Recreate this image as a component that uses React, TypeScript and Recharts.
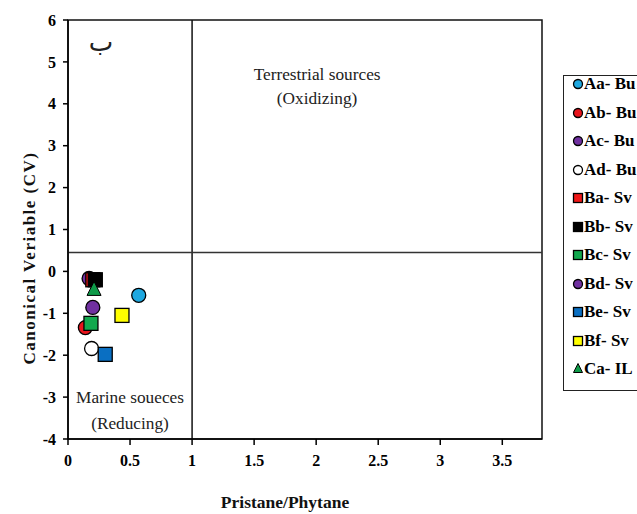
import {
  ScatterChart,
  Scatter,
  XAxis,
  YAxis,
  ReferenceLine,
  ReferenceArea,
  ReferenceDot,
} from 'recharts'

// samples, in drawing order (later ones sit on top)
const samples = ['Aa- Bu', 'Ab- Bu', 'Ac- Bu', 'Ad- Bu', 'Ba- Sv', 'Bb- Sv', 'Bc- Sv', 'Bd- Sv', 'Be- Sv', 'Bf- Sv', 'Ca- IL']
const pristanePhytane = [0.57, 0.14, 0.17, 0.19, 0.2, 0.22, 0.185, 0.2, 0.3, 0.435, 0.21]
const canonicalVariable = [-0.57, -1.34, -0.17, -1.84, -0.2, -0.2, -1.24, -0.86, -1.98, -1.05, -0.43]

const markerKinds = ['circle', 'circle', 'circle', 'circle', 'square', 'square', 'square', 'circle', 'square', 'square', 'triangle']
const markerColors = ['#1ea8e0', '#e8141c', '#7030a0', '#ffffff', '#f01818', '#000000', '#12a84e', '#7030a0', '#0a6fc2', '#ffff00', '#0e9a48']

const xTicks = [0, 0.5, 1, 1.5, 2, 2.5, 3, 3.5]
const yTicks = [-4, -3, -2, -1, 0, 1, 2, 3, 4, 5, 6]
const X_MAX = 3.82
const Y_SPLIT = 0.45 // horizontal divider
const X_SPLIT = 1 // vertical divider

const FONT = 'Liberation Serif, Times New Roman, serif'

function Marker({ cx, cy, kind, color, size }: { cx: number; cy: number; kind: string; color: string; size: number }) {
  const h = size / 2
  if (kind === 'square') {
    return <rect x={cx - h} y={cy - h} width={size} height={size} fill={color} stroke="#000" strokeWidth={1.3} />
  }
  if (kind === 'triangle') {
    return (
      <polygon
        points={`${cx},${cy - h - 1} ${cx + h},${cy + h - 1} ${cx - h},${cy + h - 1}`}
        fill={color}
        stroke="#000"
        strokeWidth={1}
      />
    )
  }
  return <circle cx={cx} cy={cy} r={h} fill={color} stroke="#000" strokeWidth={1.3} />
}

function SideLegend() {
  return (
    <div
      style={{
        position: 'absolute',
        left: 563,
        top: 75,
        width: 100,
        height: 316,
        boxSizing: 'border-box',
        border: '1.5px solid #222',
        background: '#fff',
        padding: '0 0 0 8px',
        fontFamily: FONT,
        fontWeight: 'bold',
        fontSize: 17,
        color: '#000',
      }}
    >
      {samples.map((name, i) => (
        <div key={name} style={{ height: 28.5, display: 'flex', alignItems: 'center', whiteSpace: 'nowrap', marginTop: i === 0 ? -6 : 0 }}>
          <svg width={12} height={12} style={{ marginRight: 0 }}>
            <Marker cx={6} cy={6} kind={markerKinds[i]} color={markerColors[i]} size={9} />
          </svg>
          <span>{name}</span>
        </div>
      ))}
    </div>
  )
}

function TwoLines({ cx, cy, lines, size, gap }: { cx: number; cy: number; lines: string[]; size: number; gap: number }) {
  return (
    <text x={cx} y={cy} textAnchor="middle" fontFamily={FONT} fontSize={size} fill="#222">
      {lines.map((l, i) => (
        <tspan key={l} x={cx} dy={i === 0 ? 0 : gap}>
          {l}
        </tspan>
      ))}
    </text>
  )
}

export default function App() {
  const tickStyle = { fontFamily: FONT, fontWeight: 'bold' as const, fontSize: 16, fill: '#000' }
  return (
    <div style={{ position: 'absolute', left: 0, top: 0, width: 637, height: 514, overflow: 'hidden', background: '#fff' }}>
      <ScatterChart width={637} height={514} margin={{ top: 20, right: 95, left: 18, bottom: 0 }}>
        <XAxis
          type="number"
          dataKey="x"
          domain={[0, X_MAX]}
          ticks={xTicks}
          allowDataOverflow
          height={75}
          tick={tickStyle}
          tickSize={6}
          tickMargin={10}
          stroke="#000"
          strokeWidth={1.5}
          label={{
            content: ({ viewBox }: any) => (
              <text x={285} y={viewBox.y + viewBox.height - 6} textAnchor="middle" fontFamily={FONT} fontWeight="bold" fontSize={17.5} fill="#111">
                Pristane/Phytane
              </text>
            ),
          }}
        />
        <YAxis
          type="number"
          dataKey="y"
          domain={[-4, 6]}
          ticks={yTicks}
          width={50}
          tick={tickStyle}
          tickSize={5}
          tickMargin={7}
          stroke="#000"
          strokeWidth={1.5}
          label={{
            content: () => (
              <text
                x={0}
                y={0}
                transform="translate(35, 258) rotate(-90)"
                textAnchor="middle"
                fontFamily={FONT}
                fontWeight="bold"
                fontSize={17}
                letterSpacing={1.5}
                fill="#111"
              >
                Canonical Veriable (CV)
              </text>
            ),
          }}
        />
        <ReferenceArea x1={0} x2={X_MAX} y1={-4} y2={6} fill="none" stroke="#111" strokeWidth={1.5} />
        <ReferenceLine x={X_SPLIT} stroke="#111" strokeWidth={1.5} />
        <ReferenceLine y={Y_SPLIT} stroke="#333" strokeWidth={1.5} />
        <ReferenceDot
          x={1.0}
          y={4.56}
          r={0}
          shape={(p: any) => <TwoLines cx={p.cx + 125} cy={p.cy} lines={['Terrestrial sources', '(Oxidizing)']} size={17.3} gap={24} />}
        />
        <ReferenceDot
          x={0}
          y={-3}
          r={0}
          shape={(p: any) => <TwoLines cx={p.cx + 62} cy={p.cy + 6} lines={['Marine soueces', '(Reducing)']} size={17.3} gap={26} />}
        />
        <ReferenceDot
          x={0}
          y={5.3}
          r={0}
          shape={(p: any) => (
            <text x={p.cx + 33} y={p.cy + 2} textAnchor="middle" fontFamily="DejaVu Sans" fontSize={26} fill="#222">
              ب
            </text>
          )}
        />
        {samples.map((name, i) => (
          <Scatter
            key={name}
            name={name}
            data={[{ x: pristanePhytane[i], y: canonicalVariable[i] }]}
            isAnimationActive={false}
            shape={(p: any) => <Marker cx={p.cx} cy={p.cy} kind={markerKinds[i]} color={markerColors[i]} size={14} />}
          />
        ))}
      </ScatterChart>
      <SideLegend />
    </div>
  )
}
